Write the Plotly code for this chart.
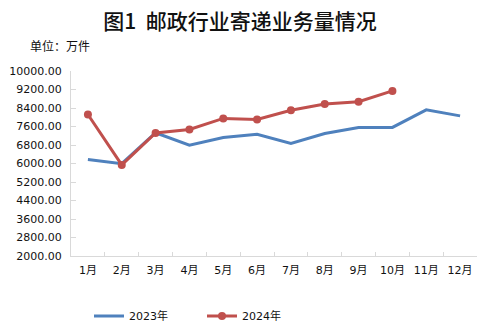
import plotly.graph_objects as go

months = ["1月", "2月", "3月", "4月", "5月", "6月", "7月", "8月", "9月", "10月", "11月", "12月"]
vol_2023 = [6170, 5990, 7330, 6790, 7120, 7260, 6870, 7300, 7560, 7560, 8320, 8060]
vol_2024 = [8120, 5940, 7320, 7470, 7950, 7900, 8300, 8570, 8670, 9140]
y_ticks = [2000, 2800, 3600, 4400, 5200, 6000, 6800, 7600, 8400, 9200, 10000]

BLUE = "#4F81BD"
RED = "#C0504D"
FONT = "DejaVu Sans, Noto Sans CJK SC"

W, H = 480, 336
ML, MR, MT, MB = 71, 3, 71, 80

fig = go.Figure()
fig.add_trace(go.Scatter(
    x=months, y=vol_2023, name="2023年", mode="lines",
    line=dict(color=BLUE, width=3),
))
fig.add_trace(go.Scatter(
    x=months[:len(vol_2024)], y=vol_2024, name="2024年", mode="lines+markers",
    line=dict(color=RED, width=3), marker=dict(color=RED, size=8),
))

fig.update_layout(
    width=W, height=H,
    margin=dict(l=ML, r=MR, t=MT, b=MB),
    paper_bgcolor="white", plot_bgcolor="white",
    font=dict(family=FONT, size=11, color="#111111"),
    title=dict(text="图1  邮政行业寄递业务量情况", x=0.5, xanchor="center",
               y=1 - 22 / H, yanchor="middle",
               font=dict(family="Noto Sans CJK SC", size=21, weight=500,
                         color="#111111")),
    showlegend=True,
    legend=dict(orientation="h", x=(89 - ML) / (W - ML - MR), xanchor="left",
                y=-(316 - (H - MB)) / (H - MT - MB), yanchor="middle",
                font=dict(size=11), itemwidth=30, entrywidth=68,
                tracegroupgap=0),
    xaxis=dict(
        type="category", categoryorder="array", categoryarray=months,
        range=[-0.5, 11.5], showgrid=False, showline=True, linecolor="#D9D9D9",
        linewidth=1, ticks="inside", ticklen=4, tickcolor="#D9D9D9",
        tickson="boundaries", ticklabelstandoff=4, tickangle=0, zeroline=False,
    ),
    yaxis=dict(
        range=[2000, 10000], tickvals=y_ticks,
        ticktext=[f"{v:.2f}" for v in y_ticks],
        showgrid=False, showline=True, linecolor="#D9D9D9", linewidth=1,
        ticks="inside", ticklen=5, tickcolor="#D9D9D9", ticklabelstandoff=6,
        zeroline=False,
    ),
    annotations=[dict(text="单位：万件",
                      x=(28 - ML) / (W - ML - MR),
                      y=1 + (MT - 45) / (H - MT - MB),
                      xref="paper", yref="paper",
                      showarrow=False, xanchor="left", yanchor="middle",
                      font=dict(family="Noto Sans CJK SC", size=12, color="#111111"))],
)

fig.write_html("out.html")
